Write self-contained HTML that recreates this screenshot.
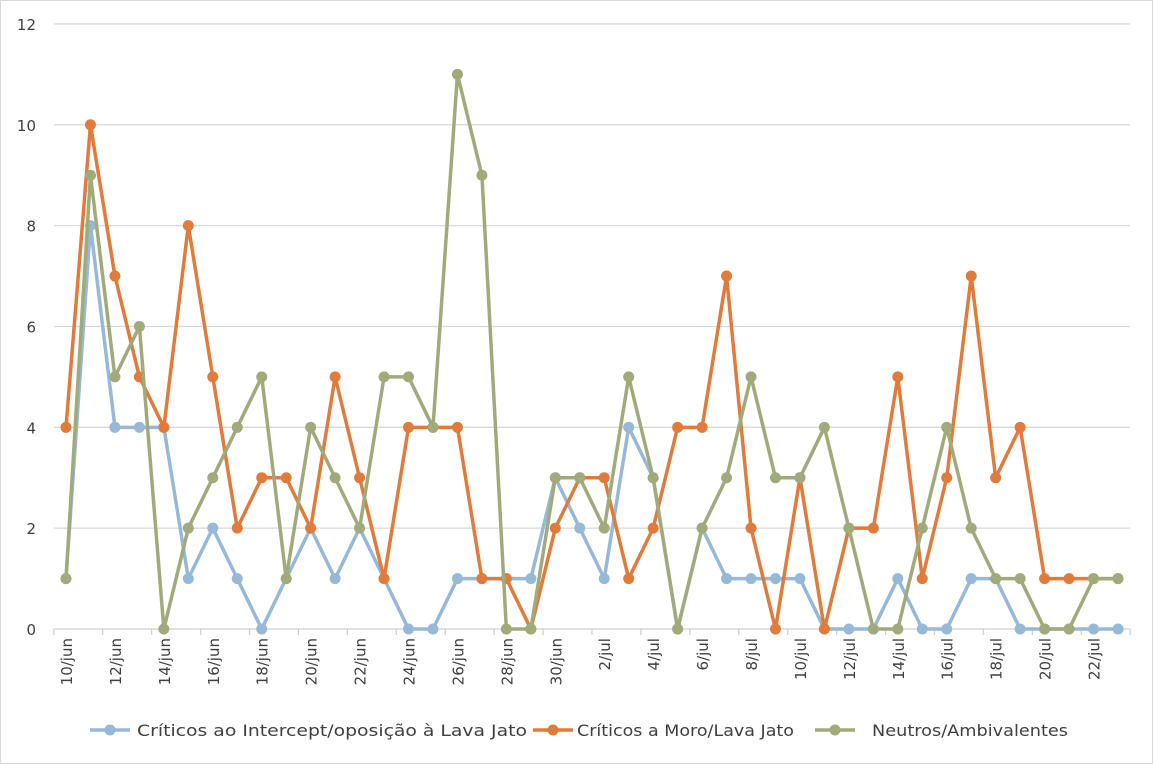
<!DOCTYPE html>
<html><head><meta charset="utf-8"><style>
html,body{margin:0;padding:0;background:#fff}
svg{display:block;font-family:"DejaVu Sans","Liberation Sans",sans-serif}
</style></head><body>
<svg id="s" width="1153" height="764" xmlns="http://www.w3.org/2000/svg">
<rect x="0.5" y="0.5" width="1152" height="763" fill="#fff" stroke="#d9d9d9"/>
<g id="g"></g>
</svg>
<script>
const ns="http://www.w3.org/2000/svg",g=document.getElementById('g');
function el(t,a,txt){const e=document.createElementNS(ns,t);for(const k in a)e.setAttribute(k,a[k]);if(txt!=null)e.textContent=txt;g.appendChild(e);return e;}
const y0=629,dy=50.42,x0=66,dx=(1118-66)/43;
const Y=v=>y0-v*dy,X=i=>x0+i*dx;
for(let v=0;v<=12;v+=2){const y=Y(v);el('line',{x1:54,x2:1130,y1:y,y2:y,stroke:v?'#d9d9d9':'#d0d0d0','stroke-width':1.3});
el('text',{x:36,y:y+6,'text-anchor':'end','font-size':15,fill:'#404040'},v);}
for(let i=0;i<=44;i+=2){const x=X(i)-dx/2;el('line',{x1:x,x2:x,y1:y0,y2:y0+6,stroke:'#d0d0d0','stroke-width':1.3});}
const days=[];for(let d=10;d<=30;d++)days.push(d+'/jun');for(let d=1;d<=23;d++)days.push(d+'/jul');
days.forEach((d,i)=>{if(i%2==0){const x=X(i)+6,y=638;el('text',{x:x,y:y,'text-anchor':'end','font-size':15,fill:'#404040',transform:`rotate(-90 ${x} ${y})`},d);}});
const B=[1,8,4,4,4,1,2,1,0,1,2,1,2,1,0,0,1,1,1,1,3,2,1,4,3,0,2,1,1,1,1,0,0,0,1,0,0,1,1,0,0,0,0,0];
const O=[4,10,7,5,4,8,5,2,3,3,2,5,3,1,4,4,4,1,1,0,2,3,3,1,2,4,4,7,2,0,3,0,2,2,5,1,3,7,3,4,1,1,1,1];
const G=[1,9,5,6,0,2,3,4,5,1,4,3,2,5,5,4,11,9,0,0,3,3,2,5,3,0,2,3,5,3,3,4,2,0,0,2,4,2,1,1,0,0,1,1];
[[B,'#95b9d7'],[O,'#e07b3c'],[G,'#a0aa7b']].forEach(([d,c])=>{
el('polyline',{points:d.map((v,i)=>X(i)+','+Y(v)).join(' '),fill:'none',stroke:c,'stroke-width':3.5,'stroke-linejoin':'round'});
d.forEach((v,i)=>el('circle',{cx:X(i),cy:Y(v),r:5.5,fill:c}));});
[[90,137,'Críticos ao Intercept/oposição à Lava Jato','#95b9d7',390],[533,577,'Críticos a Moro/Lava Jato','#e07b3c',217],[815,872,'Neutros/Ambivalentes','#a0aa7b',196]].forEach(([a,t,s,c,w])=>{
el('line',{x1:a,x2:a+40,y1:730,y2:730,stroke:c,'stroke-width':3.5});el('circle',{cx:a+20,cy:730,r:5.5,fill:c});
el('text',{x:t,y:736,'font-size':16,fill:'#404040',textLength:w,lengthAdjust:'spacingAndGlyphs'},s);});
</script>
</body></html>
